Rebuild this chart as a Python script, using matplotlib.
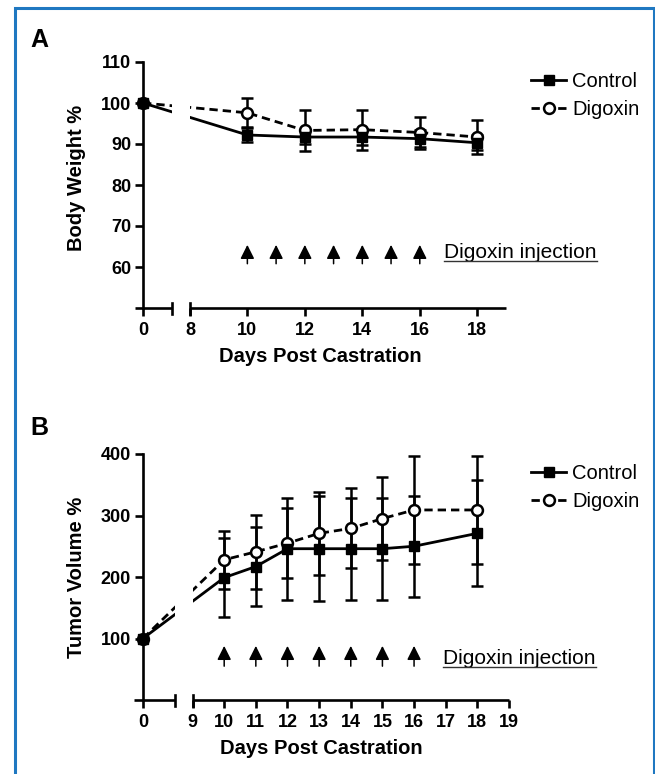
import numpy as np
import matplotlib
matplotlib.use("Agg")
import matplotlib.pyplot as plt
from matplotlib.patches import Rectangle
from matplotlib.lines import Line2D

plt.rcParams['font.family'] = ['Liberation Sans', 'DejaVu Sans']

# panel A: body weight (% of day 0)
days_a = [0, 10, 12, 14, 16, 18]
ctrl_a = [100, 92.2, 91.7, 91.7, 91.3, 90.3]
ctrl_a_err = [0, 1.7, 1.6, 1.9, 2.0, 1.8]
dig_a = [100, 97.6, 93.3, 93.5, 92.8, 91.7]
dig_a_err = [0, 3.5, 4.9, 4.9, 3.9, 4.1]

# panel B: tumor volume (% of day 0)
days_b = [0, 10, 11, 12, 13, 14, 15, 16, 18]
ctrl_b = [100, 199, 217, 246, 246, 246, 246, 250, 271]
ctrl_b_err = [0, 64, 64, 83, 85, 83, 83, 82, 86]
dig_b = [100, 228, 241, 255, 271, 279, 295, 309, 309]
dig_b_err = [0, 47, 60, 57, 68, 65, 68, 88, 88]

inj_days = [10, 11, 12, 13, 14, 15, 16]

xticks_a = [0, 8, 10, 12, 14, 16, 18]
yticks_a = [60, 70, 80, 90, 100, 110]
xticks_b = [0, 9, 10, 11, 12, 13, 14, 15, 16, 17, 18, 19]
yticks_b = [100, 200, 300, 400]

W, H = 655, 774
fig = plt.figure(figsize=(W / 100, H / 100), dpi=100)


def px_axes(l, t, r, b):
    return fig.add_axes([l / W, 1 - b / H, (r - l) / W, (b - t) / H])


def broken_scale(x0, gap):
    # 0..1 kept, 1..x0 squeezed into the gap, x0.. shifted left
    def fwd(x):
        x = np.asarray(x, float)
        return np.where(x <= 1, x, np.where(x >= x0, x - x0 + 1 + gap,
                                            1 + (x - 1) * gap / (x0 - 1)))

    def inv(u):
        u = np.asarray(u, float)
        return np.where(u <= 1, u, np.where(u >= 1 + gap, u - 1 - gap + x0,
                                            1 + (u - 1) * (x0 - 1) / gap))
    return fwd, inv


LW = 1.9


def draw_panel(ax, x0, gap, days, ctrl, cerr, dig, derr, ylim, xticks, yticks,
               arrow_tip, arrow_base):
    ax.set_xscale('function', functions=broken_scale(x0, gap))
    ax.set_xlim(-0.28, 19)
    ax.set_ylim(*ylim)

    ax.errorbar(days, dig, yerr=derr, fmt='none', ecolor='black',
                elinewidth=1.8, capsize=4, capthick=1.8, zorder=2)
    ax.errorbar(days, ctrl, yerr=cerr, fmt='none', ecolor='black',
                elinewidth=1.8, capsize=4, capthick=1.8, zorder=2)
    ax.plot(days, dig, color='black', lw=2.0, dashes=(3, 1.8),
            marker='o', ms=7.8, mfc='white', mec='black', mew=1.8,
            label='Digoxin', zorder=3)
    ax.plot(days, ctrl, color='black', lw=2.0, marker='s', ms=7.5,
            label='Control', zorder=3.2)

    # blank the axis break
    ax.axvspan(1, x0, color='white', zorder=3.5, lw=0)

    for sp in ['top', 'right', 'bottom']:
        ax.spines[sp].set_visible(False)
    ax.spines['left'].set_position(('data', 0))
    ax.spines['left'].set_linewidth(LW)
    ax.spines['left'].set_zorder(4)

    tr = ax.get_xaxis_transform()
    ax.plot([-0.28, 1], [0, 0], color='black', lw=LW, transform=tr,
            clip_on=False, solid_capstyle='butt', zorder=4)
    ax.plot([x0, 19], [0, 0], color='black', lw=LW, transform=tr,
            clip_on=False, solid_capstyle='butt', zorder=4)
    for xc in [1, x0]:
        ax.plot([xc, xc], [-0.025, 0.022], color='black', lw=LW,
                transform=tr, clip_on=False, zorder=4)

    ax.set_xticks(xticks)
    ax.set_xticklabels([str(t) for t in xticks])
    ax.set_yticks(yticks)
    ax.set_yticklabels([str(t) for t in yticks])
    ax.tick_params(axis='both', direction='out', length=6, width=LW,
                   labelsize=13, pad=2.5)
    ax.tick_params(axis='x', pad=4)
    for lab in ax.get_xticklabels() + ax.get_yticklabels():
        lab.set_fontweight('bold')

    for d in inj_days:
        ax.annotate('', xy=(d, arrow_tip), xytext=(d, arrow_base),
                    arrowprops=dict(arrowstyle='-|>', color='black', lw=1.1,
                                    mutation_scale=21, shrinkA=0, shrinkB=0))

    ax.set_facecolor('none')
    return ax


ax_a = px_axes(135, 62, 506, 308)
draw_panel(ax_a, 8, 0.63, days_a, ctrl_a, ctrl_a_err, dig_a, dig_a_err,
           (50, 110), xticks_a, yticks_a, 65.4, 60.8)

ax_b = px_axes(134, 454, 509, 700)
draw_panel(ax_b, 9, 0.57, days_b, ctrl_b, ctrl_b_err, dig_b, dig_b_err,
           (0, 400), xticks_b, yticks_b, 88, 55)

# injection notes (underlined)
notes = [ax_a.text(16.85, 62.2, 'Digoxin injection', fontsize=15,
                   va='baseline', ha='left'),
         ax_b.text(16.92, 59, 'Digoxin injection', fontsize=15,
                   va='baseline', ha='left')]

# legends
for ax, top in [(ax_a, 72), (ax_b, 464)]:
    h, l = ax.get_legend_handles_labels()
    order = [l.index('Control'), l.index('Digoxin')]
    ax.legend([h[i] for i in order], [l[i] for i in order],
              loc='upper left', bbox_to_anchor=(531 / W, 1 - top / H),
              bbox_transform=fig.transFigure, frameon=False, fontsize=14.5,
              handlelength=1.75, handletextpad=0.3, labelspacing=0.45,
              borderpad=0, borderaxespad=0)

# axis titles
fig.text(76 / W, 1 - 178 / H, 'Body Weight %', rotation=90, fontsize=14.5,
         fontweight='bold', ha='center', va='center')
fig.text(76 / W, 1 - 577 / H, 'Tumor Volume %', rotation=90, fontsize=14.5,
         fontweight='bold', ha='center', va='center')
fig.text(320 / W, 1 - 357 / H, 'Days Post Castration', fontsize=14.5,
         fontweight='bold', ha='center', va='center')
fig.text(321 / W, 1 - 749 / H, 'Days Post Castration', fontsize=14.5,
         fontweight='bold', ha='center', va='center')

# panel letters
fig.text(30 / W, 1 - 47 / H, 'A', fontsize=18, fontweight='bold',
         ha='left', va='baseline')
fig.text(30 / W, 1 - 435 / H, 'B', fontsize=18, fontweight='bold',
         ha='left', va='baseline')

# blue frame
fig.patches.append(Rectangle((14.5 / W, -0.05), (653.5 - 14.5) / W,
                             1.05 - 8 / H, transform=fig.transFigure,
                             fill=False, edgecolor='#1f78c1', lw=2.2))

fig.canvas.draw()
inv = fig.transFigure.inverted()
for t in notes:
    bb = t.get_window_extent()
    (x1, y1), (x2, _) = inv.transform([[bb.x0, bb.y0 + 1], [bb.x1, bb.y0]])
    fig.add_artist(Line2D([x1, x2], [y1, y1], color='#333333', lw=1.0,
                          transform=fig.transFigure))

fig.savefig('out.png', dpi=100)
